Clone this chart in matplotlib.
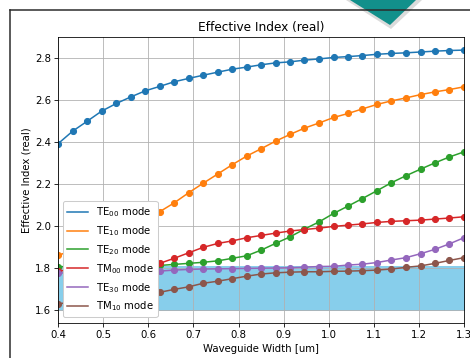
import matplotlib
matplotlib.use('Agg')
from matplotlib import pyplot as plt
from matplotlib.patches import Polygon
from matplotlib.lines import Line2D

# waveguide width sweep [um]
widths = [0.4, 0.432, 0.464, 0.496, 0.529, 0.561, 0.593, 0.625, 0.657, 0.689,
          0.721, 0.754, 0.786, 0.818, 0.85, 0.882, 0.914, 0.946, 0.979, 1.011,
          1.043, 1.075, 1.107, 1.139, 1.171, 1.204, 1.236, 1.268, 1.3]

mode_labels = [r'TE$_{00}$ mode', r'TE$_{10}$ mode', r'TE$_{20}$ mode',
               r'TM$_{00}$ mode', r'TE$_{30}$ mode', r'TM$_{10}$ mode']

te00 = [2.395, 2.454, 2.501, 2.549, 2.586, 2.617, 2.646, 2.667, 2.689, 2.705,
        2.72, 2.735, 2.749, 2.759, 2.77, 2.779, 2.784, 2.792, 2.798, 2.805,
        2.809, 2.814, 2.82, 2.824, 2.827, 2.831, 2.835, 2.838, 2.84]
te10 = [1.863, 1.885, 1.91, 1.94, 1.97, 2.0, 2.033, 2.07, 2.112, 2.16,
        2.205, 2.25, 2.294, 2.335, 2.37, 2.406, 2.438, 2.468, 2.493, 2.519,
        2.538, 2.56, 2.581, 2.598, 2.612, 2.628, 2.641, 2.652, 2.665]
te20 = [1.808, 1.809, 1.81, 1.811, 1.812, 1.813, 1.813, 1.814, 1.819, 1.824,
        1.829, 1.836, 1.848, 1.86, 1.887, 1.919, 1.95, 1.987, 2.022, 2.062,
        2.097, 2.133, 2.17, 2.208, 2.241, 2.273, 2.303, 2.331, 2.355]
tm00 = [1.789, 1.79, 1.792, 1.795, 1.8, 1.807, 1.815, 1.824, 1.848, 1.874,
        1.9, 1.919, 1.931, 1.946, 1.957, 1.968, 1.978, 1.985, 1.992, 2.0,
        2.006, 2.012, 2.019, 2.024, 2.027, 2.03, 2.035, 2.04, 2.046]
te30 = [1.778, 1.779, 1.78, 1.781, 1.783, 1.785, 1.786, 1.787, 1.792, 1.795,
        1.797, 1.798, 1.799, 1.8, 1.801, 1.802, 1.803, 1.806, 1.809, 1.81,
        1.816, 1.82, 1.828, 1.84, 1.851, 1.87, 1.891, 1.917, 1.946]
tm10 = [1.631, 1.64, 1.648, 1.656, 1.664, 1.672, 1.679, 1.686, 1.7, 1.712,
        1.729, 1.739, 1.751, 1.763, 1.773, 1.779, 1.782, 1.784, 1.784, 1.786,
        1.787, 1.789, 1.792, 1.797, 1.805, 1.812, 1.824, 1.838, 1.851]

# shaded band (cladding region)
band_low = 1.6
band_high = 1.811

modes = [te00, te10, te20, tm00, te30, tm10]
colors = ['C0', 'C1', 'C2', 'C3', 'C4', 'C5']

DPI = 73
fig = plt.figure(figsize=(470 / DPI, 358 / DPI), dpi=DPI)
ax = fig.add_axes([0.124, 0.099, 0.863, 0.798])

ax.fill_between(widths, band_low, band_high, color='skyblue')
for y, c, lab in zip(modes, colors, mode_labels):
    ax.plot(widths, y, '-', color=c, label=lab)
    ax.plot(widths, y, 'o', color=c)

ax.set_xlim(0.4, 1.3)
ax.set_ylim(1.542, 2.903)
ax.set_xticks([0.4, 0.5, 0.6, 0.7, 0.8, 0.9, 1.0, 1.1, 1.2, 1.3])
ax.set_yticks([1.6, 1.8, 2.0, 2.2, 2.4, 2.6, 2.8])
ax.grid(True)
ax.set_title('Effective Index (real)')
ax.set_xlabel('Waveguide Width [um]')
ax.set_ylabel('Effective Index (real)')
ax.legend(loc='lower left', framealpha=1)

# frame and decoration around the figure
W, H = 470.0, 358.0
fig.add_artist(Line2D([10 / W, 1], [1 - 10 / H, 1 - 10 / H], color='#2b2b2b', lw=1.5))
fig.add_artist(Line2D([10 / W, 10 / W], [0, 1 - 10 / H], color='#2b2b2b', lw=1.5))
shadow = Polygon([(346 / W, 1), (422 / W, 1), (391 / W, 1 - 29 / H)],
                 closed=True, facecolor='#9a9a9a', edgecolor='none', alpha=0.35)
fig.add_artist(shadow)
teal = Polygon([(350 / W, 1), (416 / W, 1), (390 / W, 1 - 25 / H)],
               closed=True, facecolor='#12908b', edgecolor='none')
fig.add_artist(teal)

plt.savefig('out.png', dpi=DPI)
